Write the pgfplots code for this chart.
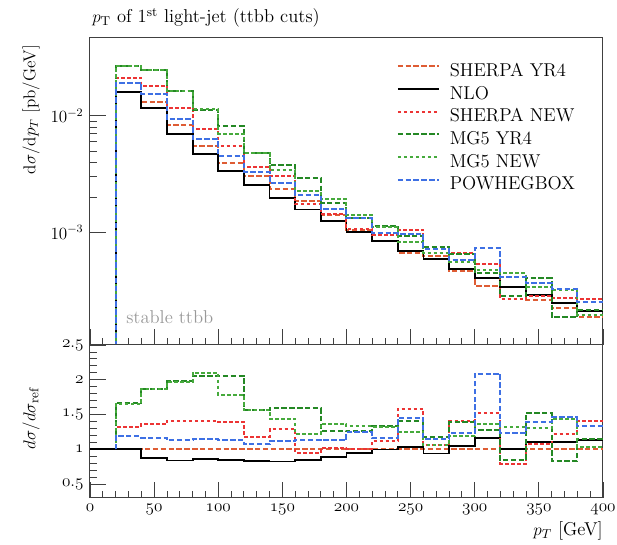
\documentclass[border=0pt]{standalone}
\usepackage{pgfplots}
\pgfplotsset{compat=1.18}
\usepackage{pgfplotstable}
\definecolor{cSY}{RGB}{222,92,52}
\definecolor{cSN}{RGB}{236,52,52}
\definecolor{cMY}{RGB}{36,136,36}
\definecolor{cMN}{RGB}{70,170,60}
\definecolor{cPW}{RGB}{62,112,228}
\newcommand{\osf}[1]{$\mathnormal{#1}$}

% top panel: d sigma / d pT, bin left edges (last row repeats last bin)
\pgfplotstableread{
x    nlo       sy        sn        my        mn        pw
20   1e-6      1e-6      1e-6      1e-6      1e-6      1e-6
20   0.01615   0.01615   0.02132   0.02681   0.02657   0.01922
40   0.01164   0.01323   0.01809   0.02470   0.02461   0.01544
60   0.00697   0.00830   0.01174   0.01640   0.01635   0.00938
80   0.00470   0.00548   0.00775   0.01127   0.01151   0.00629
100  0.00336   0.00395   0.00549   0.00813   0.00705   0.00450
120  0.00255   0.00307   0.00361   0.00481   0.00479   0.00329
140  0.00196   0.00238   0.00306   0.00378   0.00343   0.00265
160  0.00157   0.00185   0.00175   0.00294   0.00226   0.00209
180  0.00125   0.00141   0.00144   0.00179   0.00193   0.00159
200  0.00100   0.001058  0.001069  0.001333  0.001407  0.001320
220  0.000849  0.000851  0.000953  0.001132  0.001123  0.000987
240  0.000687  0.000667  0.001054  0.000934  0.000834  0.000967
260  0.000591  0.000629  0.000667  0.000742  0.000665  0.000723
280  0.000489  0.000467  0.000660  0.000649  0.000556  0.000576
300  0.000406  0.000350  0.000532  0.000448  0.000478  0.000732
320  0.000340  0.000337  0.000268  0.000284  0.000445  0.000416
340  0.000292  0.000264  0.000282  0.000402  0.000343  0.000367
360  0.000248  0.000224  0.000273  0.000186  0.000320  0.000327
380  0.000213  0.0001885 0.000267  0.000217  0.000196  0.000251
400  0.000213  0.0001885 0.000267  0.000217  0.000196  0.000251
}\toptab

% ratio panel: d sigma / d sigma_ref (ref = SHERPA YR4)
\pgfplotstableread{
x    nlo    sy   sn     my     mn     pw
0    1      1    1      1      1      1
20   1      1    1      1      1      1
20   1.0    1    1.32   1.66   1.645  1.19
40   0.88   1    1.367  1.867  1.86   1.167
60   0.84   1    1.414  1.976  1.97   1.13
80   0.858  1    1.414  2.057  2.10   1.147
100  0.85   1    1.39   2.057  1.786  1.14
120  0.83   1    1.176  1.567  1.56   1.071
140  0.825  1    1.286  1.59   1.44   1.114
160  0.85   1    0.947  1.59   1.224  1.129
180  0.888  1    1.02   1.27   1.367  1.129
200  0.945  1    1.01   1.26   1.33   1.248
220  0.998  1    1.12   1.33   1.32   1.16
240  1.03   1    1.58   1.40   1.25   1.45
260  0.94   1    1.06   1.18   1.057  1.15
280  1.048  1    1.414  1.39   1.19   1.233
300  1.16   1    1.52   1.28   1.367  2.09
320  1.01   1    0.795  0.843  1.32   1.233
340  1.105  1    1.07   1.524  1.30   1.39
360  1.105  1    1.22   0.83   1.43   1.46
380  1.13   1    1.414  1.15   1.04   1.33
400  1.13   1    1.414  1.15   1.04   1.33
}\ratiotab

\begin{document}
\fontsize{13}{15.6}\selectfont
\begin{tikzpicture}
\pgfplotsset{
  rivet/.style={
    scale only axis, width=359.1pt,
    font=\fontsize{12}{14.4}\selectfont,
    axis line style={draw=black!75, line width=0.7pt},
    tick style={draw=black!75, line width=0.6pt},
    tick align=inside, major tick length=11pt, minor tick length=5pt,
    xmin=0, xmax=400, xtick={0,50,...,400}, minor x tick num=4,
    xtick pos=left, ytick pos=left,
    clip=true,
  },
  sSY/.style={cSY, line width=1.4pt, dash pattern=on 3.8pt off 1.7pt, const plot},
  sNLO/.style={black, line width=1.3pt, const plot},
  sSN/.style={cSN, line width=1.4pt, dash pattern=on 2.5pt off 1.7pt, const plot},
  sMY/.style={cMY, line width=1.4pt, dash pattern=on 3.8pt off 1.7pt, const plot},
  sMN/.style={cMN, line width=1.4pt, dash pattern=on 2.5pt off 1.7pt, const plot},
  sPW/.style={cPW, line width=1.4pt, dash pattern=on 3.8pt off 1.7pt, const plot},
}
\begin{axis}[rivet, height=214.9pt,
  ymode=log, ymin=1.08e-4, ymax=0.0466, ytick={1e-3,1e-2},
  xticklabels={},
  legend cell align=left,
  legend image code/.code={\draw[#1] (0pt,3.6pt) -- (28.7pt,3.6pt);},
  legend style={draw=none, fill=none, at={(0.598,0.917)}, anchor=north west,
    inner sep=0pt, outer sep=0pt, row sep=4.9pt,
    font=\fontsize{13}{15.6}\selectfont,
    nodes={inner sep=0pt, text height=9pt, text depth=2pt},
    /tikz/every odd column/.append style={column sep=7pt}},
]
\addplot[sSY] table[x=x, y=sy] {\toptab};
\addlegendentry{SHERPA YR4}
\addplot[sNLO] table[x=x, y=nlo] {\toptab};
\addlegendentry{NLO}
\addplot[sSN] table[x=x, y=sn] {\toptab};
\addlegendentry{SHERPA NEW}
\addplot[sMY] table[x=x, y=my] {\toptab};
\addlegendentry{MG5 YR4}
\addplot[sMN] table[x=x, y=mn] {\toptab};
\addlegendentry{MG5 NEW}
\addplot[sPW] table[x=x, y=pw] {\toptab};
\addlegendentry{POWHEGBOX}
\end{axis}

\begin{axis}[rivet, at={(0pt,-107.1pt)}, height=107.1pt,
  ymin=0.3, ymax=2.5, ytick={0.5,1,1.5,2,2.5}, minor y tick num=4,
  yticklabels={\osf{0.5},\osf{1},\osf{1.5},\osf{2},\osf{2.5}},
  xticklabels={\osf{0},\osf{50},\osf{100},\osf{150},\osf{200},\osf{250},\osf{300},\osf{350},\osf{400}},
]
\addplot[sSY] table[x=x, y=sy] {\ratiotab};
\addplot[sNLO] table[x=x, y=nlo] {\ratiotab};
\addplot[sSN, skip coords between index={0}{1}] table[x=x, y=sn] {\ratiotab};
\addplot[sMY, skip coords between index={0}{1}] table[x=x, y=my] {\ratiotab};
\addplot[sMN, skip coords between index={0}{1}] table[x=x, y=mn] {\ratiotab};
\addplot[sPW, skip coords between index={0}{1}] table[x=x, y=pw] {\ratiotab};
\end{axis}

\node[anchor=base west, inner sep=0pt] at (1.4pt,225.4pt) {$p_{\mathrm{T}}$ of 1\textsuperscript{st} light-jet (ttbb cuts)};
\node[rotate=90, anchor=east, inner sep=0pt, font=\fontsize{12}{14.4}\selectfont] at (-41.3pt,210pt) {d$\sigma$/d$p_T$ [pb/GeV]};
\node[rotate=90, inner sep=0pt] at (-41.3pt,-51.1pt) {$d\sigma/d\sigma_{\mathrm{ref}}$};
\node[anchor=base east, inner sep=0pt] at (359.1pt,-133.7pt) {$p_T$ [GeV]};
\node[anchor=base west, inner sep=0pt, text=black!40] at (25.2pt,14.7pt) {stable ttbb};

\pgfresetboundingbox
\path[use as bounding box] (-63pt,-140pt) rectangle (368.9pt,241.5pt);
\end{tikzpicture}
\end{document}
